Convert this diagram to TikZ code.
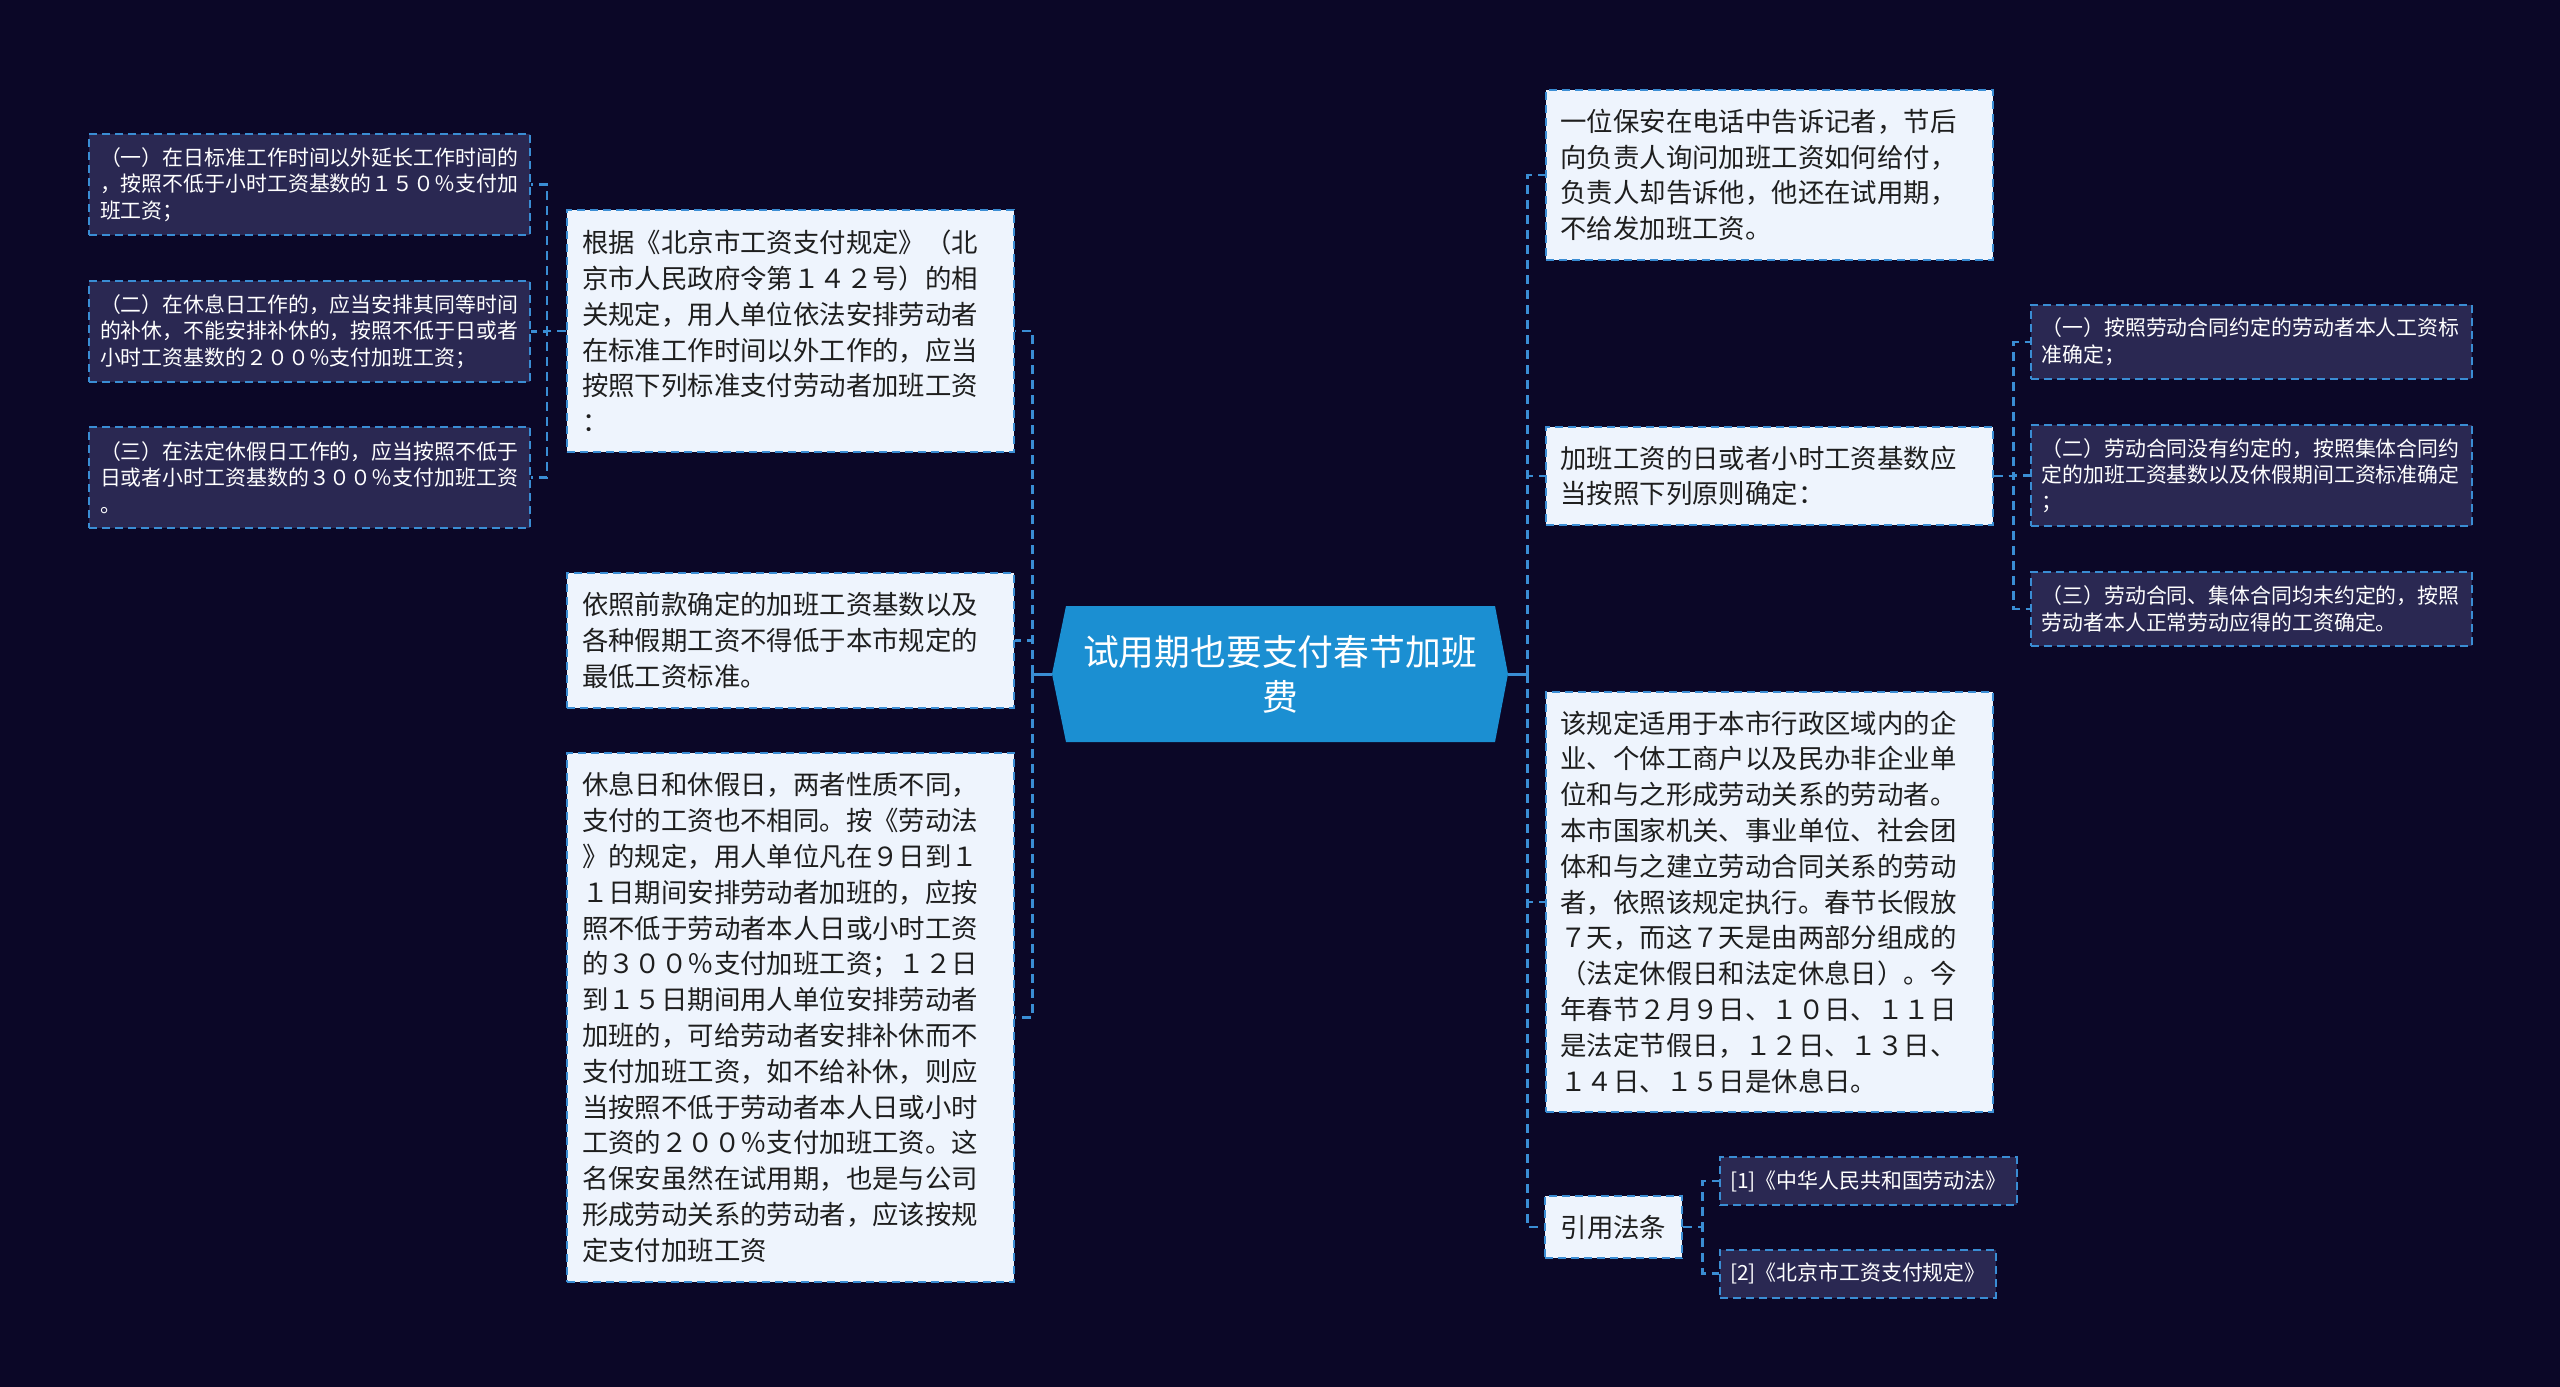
\documentclass[tikz,border=0pt]{standalone}
\usepackage{fontspec}
\setmainfont{Noto Sans CJK SC}
\definecolor{pagebg}{RGB}{11,7,39}
\definecolor{linkblue}{RGB}{58,141,212}
\definecolor{rootblue}{RGB}{27,143,210}
\definecolor{paper}{RGB}{238,244,253}
\definecolor{slate}{RGB}{42,40,82}
\definecolor{ink}{RGB}{30,30,30}
\begin{document}
\begin{tikzpicture}[x=0.5pt, y=-0.5pt,
  link/.style={draw=linkblue, line width=1.2pt, dash pattern=on 4.5pt off 3pt},
  stem/.style={draw=linkblue, line width=1.5pt},
  topic/.style={draw=linkblue, line width=1pt, dash pattern=on 4pt off 2.5pt, fill=paper, text=ink, align=left, text width=208.5pt, inner xsep=7.5pt, inner ysep=0pt, font=\fontsize{13.2}{17.9}\selectfont},
  leaf/.style={draw=linkblue, line width=1pt, dash pattern=on 4pt off 2.5pt, fill=slate, text=white, align=left, text width=209.5pt, inner xsep=5.5pt, inner ysep=0pt, font=\fontsize{10.45}{13.35}\selectfont},
  cite/.style={draw=linkblue, line width=1pt, dash pattern=on 4pt off 2.5pt, fill=slate, text=white, inner xsep=5pt, minimum height=24pt, font=\fontsize{10.45}{13.35}\selectfont},
  rootnode/.style={text=white, align=center, minimum width=228pt, minimum height=68pt, font=\fontsize{17.9}{22.5}\selectfont}]
\fill [pagebg] (0,0) rectangle (2560,1387);
\useasboundingbox (0,0) rectangle (2560,1387);
\fill [rootblue] (1052,674) -- (1066,606) -- (1495,606) -- (1508,674) -- (1495,742) -- (1066,742) -- cycle;
\node (root) at (1280,674) [rootnode] {试用期也要支付春节加班\\费};
\node (lA) at (790.5,331) [topic, minimum height=121pt] {根据《北京市工资支付规定》（北\\京市人民政府令第１４２号）的相\\关规定，用人单位依法安排劳动者\\在标准工作时间以外工作的，应当\\按照下列标准支付劳动者加班工资\\：};
\node (lB) at (790.5,640.5) [topic, minimum height=67.5pt] {依照前款确定的加班工资基数以及\\各种假期工资不得低于本市规定的\\最低工资标准。};
\node (lC) at (790.5,1017.5) [topic, minimum height=264.5pt] {休息日和休假日，两者性质不同，\\支付的工资也不相同。按《劳动法\\》的规定，用人单位凡在９日到１\\１日期间安排劳动者加班的，应按\\照不低于劳动者本人日或小时工资\\的３００％支付加班工资；１２日\\到１５日期间用人单位安排劳动者\\加班的，可给劳动者安排补休而不\\支付加班工资，如不给补休，则应\\当按照不低于劳动者本人日或小时\\工资的２００％支付加班工资。这\\名保安虽然在试用期，也是与公司\\形成劳动关系的劳动者，应该按规\\定支付加班工资};
\node (sA) at (309.5,184.5) [leaf, minimum height=50.5pt] {（一）在日标准工作时间以外延长工作时间的\\，按照不低于小时工资基数的１５０％支付加\\班工资；};
\node (sB) at (309.5,331.5) [leaf, minimum height=50.5pt] {（二）在休息日工作的，应当安排其同等时间\\的补休，不能安排补休的，按照不低于日或者\\小时工资基数的２００％支付加班工资；};
\node (sC) at (309.5,477.5) [leaf, minimum height=50.5pt] {（三）在法定休假日工作的，应当按照不低于\\日或者小时工资基数的３００％支付加班工资\\。};
\node (rA) at (1769,175) [topic, minimum height=85pt] {一位保安在电话中告诉记者，节后\\向负责人询问加班工资如何给付，\\负责人却告诉他，他还在试用期，\\不给发加班工资。};
\node (rB) at (1769,476) [topic, minimum height=49pt] {加班工资的日或者小时工资基数应\\当按照下列原则确定：};
\node (rC) at (1769,902) [topic, minimum height=210pt] {该规定适用于本市行政区域内的企\\业、个体工商户以及民办非企业单\\位和与之形成劳动关系的劳动者。\\本市国家机关、事业单位、社会团\\体和与之建立劳动合同关系的劳动\\者，依照该规定执行。春节长假放\\７天，而这７天是由两部分组成的\\（法定休假日和法定休息日）。今\\年春节２月９日、１０日、１１日\\是法定节假日，１２日、１３日、\\１４日、１５日是休息日。};
\node (rD) at (1613.5,1227) [topic, text width=, inner xsep=8pt, minimum height=31pt] {引用法条};
\node (tA) at (2251,342) [leaf, minimum height=37pt] {（一）按照劳动合同约定的劳动者本人工资标\\准确定；};
\node (tB) at (2251,475.5) [leaf, minimum height=50.5pt] {（二）劳动合同没有约定的，按照集体合同约\\定的加班工资基数以及休假期间工资标准确定\\；};
\node (tC) at (2251,609) [leaf, minimum height=37pt] {（三）劳动合同、集体合同均未约定的，按照\\劳动者本人正常劳动应得的工资确定。};
\node (fA) at (1719,1181) [cite, anchor=west] {[1]《中华人民共和国劳动法》};
\node (fB) at (1719,1273.5) [cite, anchor=west] {[2]《北京市工资支付规定》};
\draw [stem] (root.west) -- ++(-19,0) coordinate (lhub);
\draw [link] (lhub) |- (lA.east);
\draw [link] (lhub) |- (lB.east);
\draw [link] (lhub) |- (lC.east);
\draw [stem] (root.east) -- ++(19,0) coordinate (rhub);
\draw [link] (rhub) |- (rA.west);
\draw [link] (rhub) |- (rB.west);
\draw [link] (rhub) |- (rC.west);
\draw [link] (rhub) |- (rD.west);
\draw [link] (lA.west) -- ++(-19,0) |- (sA.east);
\draw [link] (lA.west) -- ++(-19,0) |- (sB.east);
\draw [link] (lA.west) -- ++(-19,0) |- (sC.east);
\draw [link] (rB.east) -- ++(20,0) |- (tA.west);
\draw [link] (rB.east) -- ++(20,0) |- (tB.west);
\draw [link] (rB.east) -- ++(20,0) |- (tC.west);
\draw [link] (rD.east) -- ++(19,0) |- (fA.west);
\draw [link] (rD.east) -- ++(19,0) |- (fB.west);
\end{tikzpicture}
\end{document}
